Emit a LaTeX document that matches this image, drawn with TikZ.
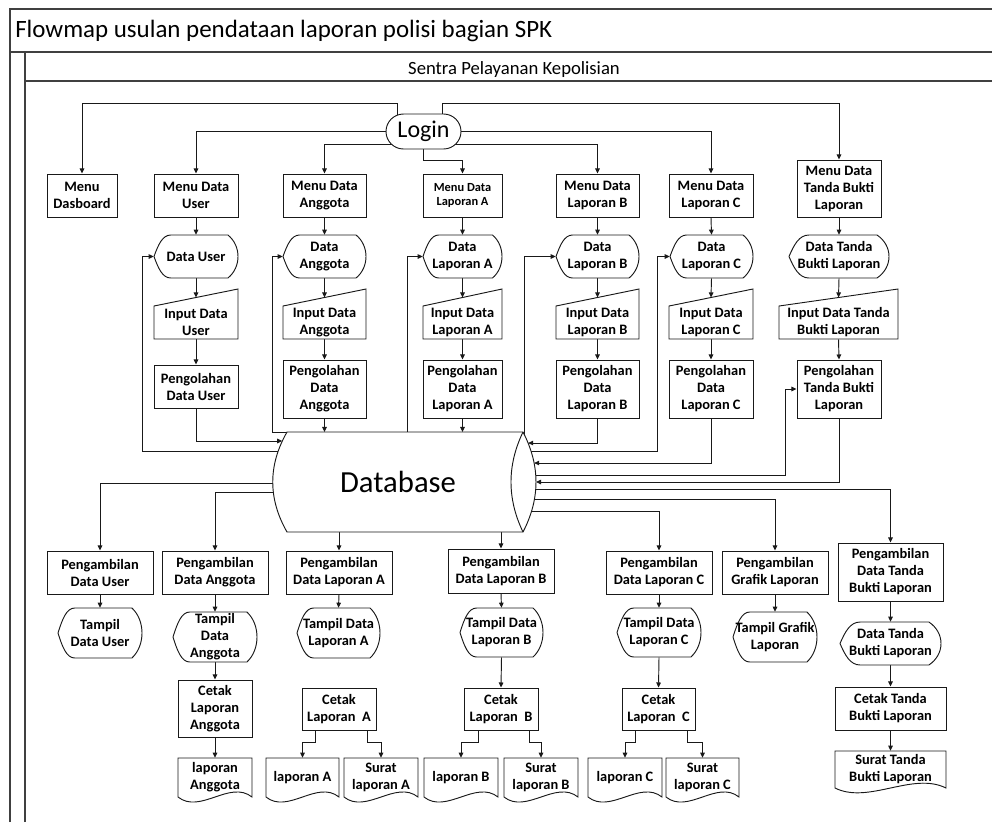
\documentclass[tikz,border=0pt]{standalone}
\usepackage{fontspec}
\setmainfont{Carlito}
\usetikzlibrary{arrows.meta,backgrounds,shapes.misc}

\tikzset{
  shp/.style={draw=black!90, line width=0.7pt, fill=white},
  lbl/.style={font=\bfseries\fontsize{10.8}{12.75}\selectfont, align=center, inner sep=0pt, text=black},
  smalllbl/.style={font=\bfseries\fontsize{9.3}{10.5}\selectfont},
  wire/.style={draw=black!90, line width=0.7pt},
  arr/.style={wire, -{Triangle[length=3.8pt,width=3.4pt]}},
  frame/.style={draw=black!75, line width=0.8pt},
}

% process box: [extra style]{name}{left}{top}{right}{bottom}{text}
\newcommand\procbox[7][]{%
  \node[lbl, shp, #1, minimum width={(#5-#3)*0.75pt}, minimum height={(#6-#4)*0.75pt}]
    (#2) at ({(#3+#5)/2},{(#4+#6)/2}) {#7};}

% display shape: {name}{left}{top}{right}{bottom}{text}
\newcommand\dispbox[6]{%
  \pgfmathsetmacro\fmW{#4-#2}\pgfmathsetmacro\fmH{#5-#3}\pgfmathsetmacro\fmM{(#3+#5)/2}%
  \draw[shp] (#2,\fmM) .. controls ({#2+0.05*\fmW},{\fmM-0.27*\fmH}) and ({#2+0.1*\fmW},#3) .. ({#2+0.2*\fmW},#3)
    -- ({#4-0.12*\fmW},#3) .. controls ({#4+0.04*\fmW},{#3+0.25*\fmH}) and ({#4+0.04*\fmW},{#5-0.25*\fmH}) .. ({#4-0.12*\fmW},#5)
    -- ({#2+0.2*\fmW},#5) .. controls ({#2+0.1*\fmW},#5) and ({#2+0.05*\fmW},{\fmM+0.27*\fmH}) .. (#2,\fmM) -- cycle;
  \node[lbl, minimum width={\fmW*0.75pt}, minimum height={\fmH*0.75pt}] (#1) at ({(#2+#4)/2},\fmM) {#6};}

% manual input: {name}{left}{top right}{right}{bottom}{text}
\newcommand\inputbox[6]{%
  \pgfmathsetmacro\fmT{#3+17}%
  \draw[shp] (#2,\fmT) -- (#4,#3) -- (#4,#5) -- (#2,#5) -- cycle;
  \node[lbl, minimum width={(#4-#2)*0.75pt}, minimum height={(#5-\fmT)*0.75pt}] (#1) at ({(#2+#4)/2},{(\fmT+#5)/2}) {#6};
  \coordinate (#1-top) at ({(#2+#4)/2},{#3+8.5});}

% document: {name}{left}{top}{right}{bottom of sides}{text}
\newcommand\docbox[6]{%
  \pgfmathsetmacro\fmW{#4-#2}\pgfmathsetmacro\fmD{0.45*(#5-#3)}%
  \draw[shp] (#2,#3) -- (#4,#3) -- (#4,#5) .. controls ({#4-0.3*\fmW},{#5-\fmD}) and ({#2+0.3*\fmW},{#5+\fmD}) .. (#2,#5) -- cycle;
  \node[lbl, minimum width={\fmW*0.75pt}, minimum height={(#5-#3)*0.75pt}] (#1) at ({(#2+#4)/2},{(#3+#5)/2}) {#6};}

\begin{document}
\begin{tikzpicture}[x=0.75pt, y=-0.75pt]
\useasboundingbox (0,0) rectangle (992,822);

% swimlane frame
\draw[frame] (10,822) -- (10,9) -- (992,9);
\draw[frame] (10,52) -- (992,52);
\draw[frame] (25,822) -- (25,52);
\draw[frame] (25,81) -- (992,81);
\node[anchor=base west, font=\fontsize{18.7}{22}\selectfont, inner sep=0] (title) at (15,37.3) {Flowmap usulan pendataan laporan polisi bagian SPK};
\node[anchor=base, font=\fontsize{14}{16}\selectfont, inner sep=0] (lane) at (514,74) {Sentra Pelayanan Kepolisian};

% login terminator
\node[shp, rounded rectangle, minimum width={75*0.75pt}, minimum height={35*0.75pt}, inner sep=0,
      font=\fontsize{18}{20}\selectfont] (login) at (423.5,131.5) {Login};

% menus
\procbox{mdash}{47}{174}{117}{217}{Menu\\Dasboard}
\procbox{mdu}{154}{174}{238}{217}{Menu Data\\User}
\procbox{mda}{283}{174}{366}{217}{Menu Data\\Anggota}
\procbox[smalllbl]{mla}{423}{174}{502}{217}{Menu Data\\Laporan A}
\procbox{mlb}{556}{174}{639}{217}{Menu Data\\Laporan B}
\procbox{mlc}{669}{174}{753}{217}{Menu Data\\Laporan C}
\procbox{mtb}{797}{160}{881}{217}{Menu Data\\Tanda Bukti\\Laporan}

% data displays
\dispbox{dU}{154}{235}{238}{278}{Data User}
\dispbox{dA}{283}{235}{366}{278}{Data\\Anggota}
\dispbox{dLA}{423}{235}{502}{278}{Data\\Laporan A}
\dispbox{dLB}{556}{235}{639}{278}{Data\\Laporan B}
\dispbox{dLC}{670}{235}{753}{278}{Data\\Laporan C}
\dispbox{dTB}{789}{235}{889}{278}{Data Tanda\\Bukti Laporan}

% inputs
\inputbox{iU}{154}{289}{238}{339}{Input Data\\User}
\inputbox{iA}{283}{289}{366}{339}{Input Data\\Anggota}
\inputbox{iLA}{423}{289}{502}{339}{Input Data\\Laporan A}
\inputbox{iLB}{556}{289}{639}{339}{Input Data\\Laporan B}
\inputbox{iLC}{669}{289}{753}{339}{Input Data\\Laporan C}
\inputbox{iTB}{779}{289}{898}{339}{Input Data Tanda\\Bukti Laporan}

% processing
\procbox{pU}{154}{365}{238}{408}{Pengolahan\\Data User}
\procbox{pA}{283}{360}{366}{418}{Pengolahan\\Data\\Anggota}
\procbox{pLA}{423}{360}{502}{418}{Pengolahan\\Data\\Laporan A}
\procbox{pLB}{556}{360}{639}{418}{Pengolahan\\Data\\Laporan B}
\procbox{pLC}{669}{360}{753}{418}{Pengolahan\\Data\\Laporan C}
\procbox{pTB}{797}{360}{881}{418}{Pengolahan\\Tanda Bukti\\Laporan}

% database (horizontal drum)
\draw[shp] (287,432) -- (523,432) .. controls (540.3,465.3) and (540.3,498.7) .. (523,532)
  -- (287,532) .. controls (268,498.7) and (268,465.3) .. (287,432) -- cycle;
\draw[wire] (523,432) .. controls (507,465.3) and (507,498.7) .. (523,532);
\node[font=\fontsize{23}{26}\selectfont, inner sep=0] (db) at (398,482) {Database};
\coordinate (dbTop) at (400,432);
\coordinate (dbBot) at (400,532);
\coordinate (dbTL) at (287,432);
\coordinate (dbT2) at (407,432);
\coordinate (dbL1) at (282.3,441);
\coordinate (dbL2) at (278.2,451);
\coordinate (dbL3) at (272.8,483);
\coordinate (dbL4) at (273.3,492);
\coordinate (dbR0) at (524.8,435);
\coordinate (dbR1) at (528.1,443);
\coordinate (dbR2) at (531.0,451);
\coordinate (dbR3) at (534.1,463);
\coordinate (dbR4) at (535.7,475);
\coordinate (dbR5) at (536.0,482);
\coordinate (dbR6) at (535.7,489);
\coordinate (dbR7) at (534.5,499);
\coordinate (dbR8) at (531.6,511);

% retrieval row
\procbox{gU}{47}{551}{153}{594}{Pengambilan\\Data User}
\procbox{gA}{162}{551}{268}{594}{Pengambilan\\Data Anggota}
\procbox{gLA}{286}{551}{392}{594}{Pengambilan\\Data Laporan A}
\procbox{gLB}{448}{549}{554}{593}{Pengambilan\\Data Laporan B}
\procbox{gLC}{606}{551}{712}{594}{Pengambilan\\Data Laporan C}
\procbox{gGr}{722}{551}{828}{594}{Pengambilan\\Grafik Laporan}
\procbox{gTB}{838}{543}{943}{601}{Pengambilan\\Data Tanda\\Bukti Laporan}

% shown results
\dispbox{tU}{58}{608}{142}{658}{Tampil\\Data User}
\dispbox{tA}{173}{612}{257}{662}{Tampil\\Data\\Anggota}
\dispbox{tLA}{297}{608}{380}{658}{Tampil Data\\Laporan A}
\dispbox{tLB}{460}{608}{543}{657}{Tampil Data\\Laporan B}
\dispbox{tLC}{617}{608}{701}{657}{Tampil Data\\Laporan C}
\dispbox{tGr}{733}{612}{817}{662}{Tampil Grafik\\Laporan}
\dispbox{dTB2}{840}{622}{941}{665}{Data Tanda\\Bukti Laporan}

% printing
\procbox{cA}{178}{680}{252}{737}{Cetak\\Laporan\\Anggota}
\procbox{cLA}{302}{688}{376}{730}{Cetak\\Laporan~ A}
\procbox{cLB}{464}{688}{538}{730}{Cetak\\Laporan~ B}
\procbox{cLC}{622}{688}{695}{730}{Cetak\\Laporan~ C}
\procbox{cTB}{835}{687}{946}{730}{Cetak Tanda\\Bukti Laporan}

% printed documents
\docbox{rA}{178}{758}{252}{797}{laporan\\Anggota}
\docbox{rLA}{266}{758}{339}{797}{laporan A}
\docbox{sLA}{344}{758}{418}{797}{Surat\\laporan A}
\docbox{rLB}{424}{758}{498}{797}{laporan B}
\docbox{sLB}{504}{758}{578}{797}{Surat\\laporan B}
\docbox{rLC}{588}{758}{662}{797}{laporan C}
\docbox{sLC}{666}{758}{739}{797}{Surat\\laporan C}
\docbox{sTB}{835}{751}{946}{788}{Surat Tanda\\Bukti Laporan}

\begin{scope}[on background layer]
  % login to menus
  \draw[arr] ([xshift=-19.875pt]login.center) -- ++(0,-28.5) -| (mdash.north);
  \draw[arr] ([xshift=13.875pt]login.center) -- ++(0,-28.5) -| (mtb.north);
  \draw[arr] (login.west) -| (mdu.north);
  \draw[arr] (login.east) -| (mlc.north);
  \draw[arr] ([yshift=-9.375pt]login.center) -| (mda.north);
  \draw[arr] ([yshift=-9.375pt]login.center) -| (mlb.north);
  \draw[arr] (login.south) -- ++(0,11) -| (mla.north);

  % input columns
  \foreach \m/\d/\i/\p in {mdu/dU/iU/pU, mda/dA/iA/pA, mla/dLA/iLA/pLA, mlb/dLB/iLB/pLB, mlc/dLC/iLC/pLC, mtb/dTB/iTB/pTB}{
    \draw[arr] (\m.south) -- (\d.north);
    \draw[arr] (\d.south) -- (\i-top);
    \draw[arr] (\i.south) -- (\p.north);
  }

  % processing results into the database
  \draw[arr] (pU.south) |- (dbL1);
  \draw[arr] (pA.south) -- (pA.south |- dbTop);
  \draw[arr] (pLA.south) -- (pLA.south |- dbTop);
  \draw[arr] (pLB.south) |- (dbR1);
  \draw[arr] (pLC.south) |- (dbR3);
  \draw[arr] (pTB.south) |- (dbR5);

  % feedback from the database
  \draw[arr] (dbL2) -| ([xshift=-8.25pt]dU.west) -- (dU.west);
  \draw[arr] (dbTL) -- ++(-15,0) |- (dA.west);
  \draw[arr] (dbT2) |- (dLA.west);
  \draw[arr] (dbR0) |- (dLB.west);
  \draw[arr] (dbR2) -| ([xshift=-9pt]dLC.west) -- (dLC.west);
  \draw[arr] (dbR4) -| ([xshift=-8.25pt]pTB.west) -- (pTB.west);

  % database to retrieval
  \draw[arr] (dbL3) -| (gU.north);
  \draw[arr] (dbL4) -| (gA.north);
  \draw[arr] (gLA.north |- dbBot) -- (gLA.north);
  \draw[arr] (gLB.north |- dbBot) -- (gLB.north);
  \draw[arr] (dbR8) -| (gLC.north);
  \draw[arr] (dbR7) -| (gGr.north);
  \draw[arr] (dbR6) -| (gTB.north);

  % retrieval to output
  \draw[arr] (gU.south) -- (tU.north);
  \draw[arr] (gA.south) -- (tA.north);
  \draw[arr] (tA.south) -- (cA.north);
  \draw[arr] (cA.south) -- (rA.north);
  \draw[arr] (gLA.south) -- (tLA.north);
  \draw[arr] (gLB.south) -- (tLB.north);
  \draw[arr] (tLB.south) -- (cLB.north);
  \draw[arr] (gLC.south) -- (tLC.north);
  \draw[arr] (tLC.south) -- (cLC.north);
  \draw[arr] (gGr.south) -- (tGr.north);
  \draw[arr] (gTB.south) -- (dTB2.north);
  \draw[arr] (dTB2.south) -- (cTB.north);
  \draw[arr] (cTB.south) -- (sTB.north);

  % print branches
  \draw[arr] ([xshift=-18pt]cLA.south) -- ++(0,12) -| (rLA.north);
  \draw[arr] ([xshift=21pt]cLA.south) -- ++(0,12) -| (sLA.north);
  \draw[arr] ([xshift=-17.25pt]cLB.south) -- ++(0,12) -| (rLB.north);
  \draw[arr] ([xshift=21pt]cLB.south) -- ++(0,12) -| (sLB.north);
  \draw[arr] ([xshift=-17.6pt]cLC.south) -- ++(0,12) -| (rLC.north);
  \draw[arr] ([xshift=21.4pt]cLC.south) -- ++(0,12) -| (sLC.north);
\end{scope}
\end{tikzpicture}
\end{document}
